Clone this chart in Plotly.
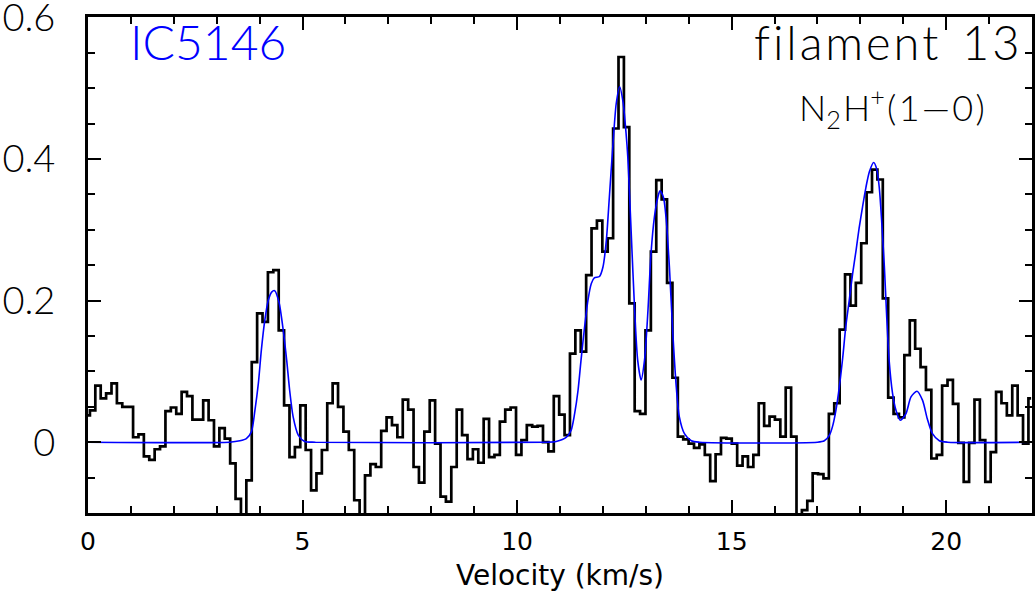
import plotly.graph_objects as go

# ---- data ----
chan_width = 0.1257          # km/s
first_center = -0.018        # km/s, centre of first channel
spectrum_T = [
    0.038, 0.045, 0.080, 0.062, 0.069, 0.083, 0.055, 0.050, 0.050, 0.007,
    0.011, -0.020, -0.025, -0.010, -0.006, 0.044, 0.049, 0.040, 0.071, 0.065,
    0.032, 0.032, 0.059, 0.031, -0.006, 0.020, 0.005, -0.030, -0.080, -0.130,
    -0.054, 0.113, 0.182, 0.170, 0.240, 0.243, 0.158, 0.052, -0.021, -0.007,
    0.052, -0.011, -0.068, -0.044, -0.011, 0.055, 0.083, 0.050, 0.015, -0.011,
    -0.082, -0.120, -0.047, -0.031, -0.035, 0.016, 0.035, 0.024, 0.007, 0.060,
    0.046, -0.035, -0.057, 0.015, 0.059, -0.002, -0.077, -0.084, -0.035, 0.046,
    0.010, -0.024, -0.010, -0.029, 0.033, -0.021, -0.018, 0.029, 0.046, 0.049,
    -0.018, 0.003, 0.024, 0.022, 0.023, 0.000, -0.013, 0.065, 0.039, 0.010,
    0.125, 0.158, 0.128, 0.236, 0.302, 0.313, 0.269, 0.288, 0.443, 0.544,
    0.445, 0.196, 0.044, 0.040, 0.158, 0.269, 0.370, 0.343, 0.225, 0.091,
    0.008, 0.004, -0.002, -0.008, -0.003, -0.018, -0.055, -0.017, 0.006, 0.005,
    -0.002, -0.033, -0.020, -0.035, -0.018, 0.055, 0.023, 0.036, 0.032, 0.008,
    0.077, 0.008, -0.130, -0.096, -0.083, -0.044, -0.045, -0.051, 0.040, 0.055,
    0.159, 0.237, 0.193, 0.225, 0.281, 0.353, 0.385, 0.371, 0.203, 0.063,
    0.040, 0.035, 0.123, 0.172, 0.132, 0.106, 0.074, -0.023, -0.018, 0.080,
    0.088, 0.054, -0.001, -0.056, -0.001, 0.060, 0.003, -0.056, -0.014, 0.071,
    0.055, 0.038, 0.080, 0.038, -0.002, 0.062,
]
spectrum_v = [first_center + i * chan_width for i in range(len(spectrum_T))]

fit_v = [0, 3.3, 3.54, 3.69, 3.81, 3.89, 3.97, 4.04, 4.12, 4.20, 4.28, 4.35, 4.45,
         4.55, 4.63, 4.70, 4.78, 4.90, 5.05, 5.3, 10.7, 10.91, 11.15, 11.26,
         11.34, 11.42, 11.49, 11.57, 11.65, 11.73, 11.80, 11.92, 12.0, 12.08,
         12.15, 12.23, 12.31, 12.39, 12.47, 12.54, 12.58, 12.66, 12.74, 12.81,
         12.89, 12.97, 13.05, 13.12, 13.20, 13.28, 13.33, 13.41, 13.47, 13.55,
         13.63, 13.71, 13.78, 13.90, 14.06, 14.25, 17.0, 17.16, 17.28, 17.35,
         17.43, 17.51, 17.59, 17.66, 17.74, 17.82, 17.90, 17.97, 18.05, 18.13,
         18.21, 18.31, 18.38, 18.44, 18.50, 18.56, 18.61, 18.67, 18.75, 18.83,
         18.93, 19.06, 19.18, 19.32, 19.45, 19.56, 19.68, 19.84, 20.03, 22]
fit_T = [0, 0, 0.002, 0.005, 0.015, 0.045, 0.083, 0.130, 0.172, 0.200, 0.212,
         0.214, 0.198, 0.158, 0.116, 0.073, 0.036, 0.010, 0.001, 0, 0, 0.001,
         0.007, 0.017, 0.040, 0.073, 0.116, 0.161, 0.200, 0.224, 0.232, 0.234,
         0.247, 0.285, 0.346, 0.417, 0.478, 0.502, 0.480, 0.436, 0.403, 0.295,
         0.186, 0.116, 0.088, 0.116, 0.186, 0.266, 0.318, 0.346, 0.355, 0.346,
         0.318, 0.247, 0.153, 0.078, 0.036, 0.012, 0.002, 0, 0, 0.002, 0.010,
         0.022, 0.045, 0.078, 0.120, 0.163, 0.200, 0.238, 0.271, 0.302, 0.332,
         0.360, 0.382, 0.395, 0.386, 0.360, 0.309, 0.247, 0.182, 0.116, 0.069,
         0.045, 0.031, 0.040, 0.064, 0.072, 0.059, 0.033, 0.012, 0.002, 0, 0]

x_range = [0, 22]
y_range = [-0.1, 0.6005]
x_ticks = [0, 5, 10, 15, 20]
y_ticks = [0, 0.2, 0.4, 0.6]
y_ticktext = ["0", "0.2", "0.4", "0.6"]

# ---- figure ----
fig = go.Figure()
fig.add_trace(go.Scatter(x=spectrum_v, y=spectrum_T, mode="lines",
                         line=dict(color="black", width=2.7, shape="hvh"),
                         showlegend=False, hoverinfo="skip"))
fig.add_trace(go.Scatter(x=fit_v, y=fit_T, mode="lines",
                         line=dict(color="#0000ff", width=1.6, shape="spline",
                                   smoothing=0.7),
                         showlegend=False, hoverinfo="skip"))
# invisible trace to carry the mirrored (top/right) tick axes
fig.add_trace(go.Scatter(x=[x_range[0]], y=[0], xaxis="x2", yaxis="y2", mode="markers",
                         marker=dict(opacity=0), showlegend=False, hoverinfo="skip"))

tick_common = dict(ticks="inside", ticklen=13, tickwidth=2, tickcolor="black",
                   showgrid=False, zeroline=False, automargin=False)

fig.update_layout(
    width=1035, height=592,
    margin=dict(l=88, r=3, t=17, b=79),
    paper_bgcolor="white", plot_bgcolor="white",
    xaxis=dict(range=x_range, tickvals=x_ticks, showline=True, linewidth=3,
               linecolor="black", mirror=True,
               tickfont=dict(family="DejaVu Sans, sans-serif", size=25, color="black"),
               ticklabelstandoff=4, ticklabeloverflow="allow",
               minor=dict(dtick=1, tick0=0, ticks="inside", ticklen=7,
                          tickwidth=2, tickcolor="black", showgrid=False),
               title=dict(text="Velocity (km/s)", standoff=12,
                          font=dict(family="DejaVu Sans, sans-serif", size=28, color="black")),
               **tick_common),
    yaxis=dict(range=y_range, tickvals=y_ticks, ticktext=y_ticktext,
               showline=True, linewidth=3, linecolor="black", mirror=True,
               tickfont=dict(family="Lato, DejaVu Sans, sans-serif", size=38,
                             color="black", weight=300),
               ticklabelstandoff=22, ticklabeloverflow="allow",
               minor=dict(dtick=0.05, tick0=0, ticks="inside", ticklen=7,
                          tickwidth=2, tickcolor="black", showgrid=False),
               **tick_common),
    xaxis2=dict(range=x_range, tickvals=x_ticks, overlaying="x", side="top",
                anchor="y2", showticklabels=False, showline=False,
                minor=dict(dtick=1, tick0=0, ticks="inside", ticklen=7,
                           tickwidth=2, tickcolor="black", showgrid=False),
                **tick_common),
    yaxis2=dict(range=y_range, tickvals=y_ticks, overlaying="y", side="right",
                anchor="x2", showticklabels=False, showline=False,
                minor=dict(dtick=0.05, tick0=0, ticks="inside", ticklen=7,
                           tickwidth=2, tickcolor="black", showgrid=False),
                **tick_common),
)

ann_font = "Lato, DejaVu Sans, sans-serif"
hs = "\u200a"
fig.add_annotation(text="IC5146", xref="paper", yref="paper", x=0.127, y=0.95,
                   xanchor="center", yanchor="middle", showarrow=False,
                   font=dict(family=ann_font, size=48, color="#0000ff", weight=300))
fig.add_annotation(text=hs.join("filament") + "\u2002" + hs.join("13"),
                   xref="paper", yref="paper", x=0.988, y=0.95,
                   xanchor="right", yanchor="middle", showarrow=False,
                   font=dict(family=ann_font, size=47, color="black", weight=300))
fig.add_annotation(text="N<sub>2</sub>" + hs + "H<sup>+</sup>" + hs + hs.join("(1\u20140)"),
                   xref="paper", yref="paper",
                   x=0.852, y=0.817, xanchor="center", yanchor="middle", showarrow=False,
                   font=dict(family=ann_font, size=36, color="black", weight=300))

fig.write_html("out.html", config={"displayModeBar": False},
               post_script="document.body.style.margin='0px';")
